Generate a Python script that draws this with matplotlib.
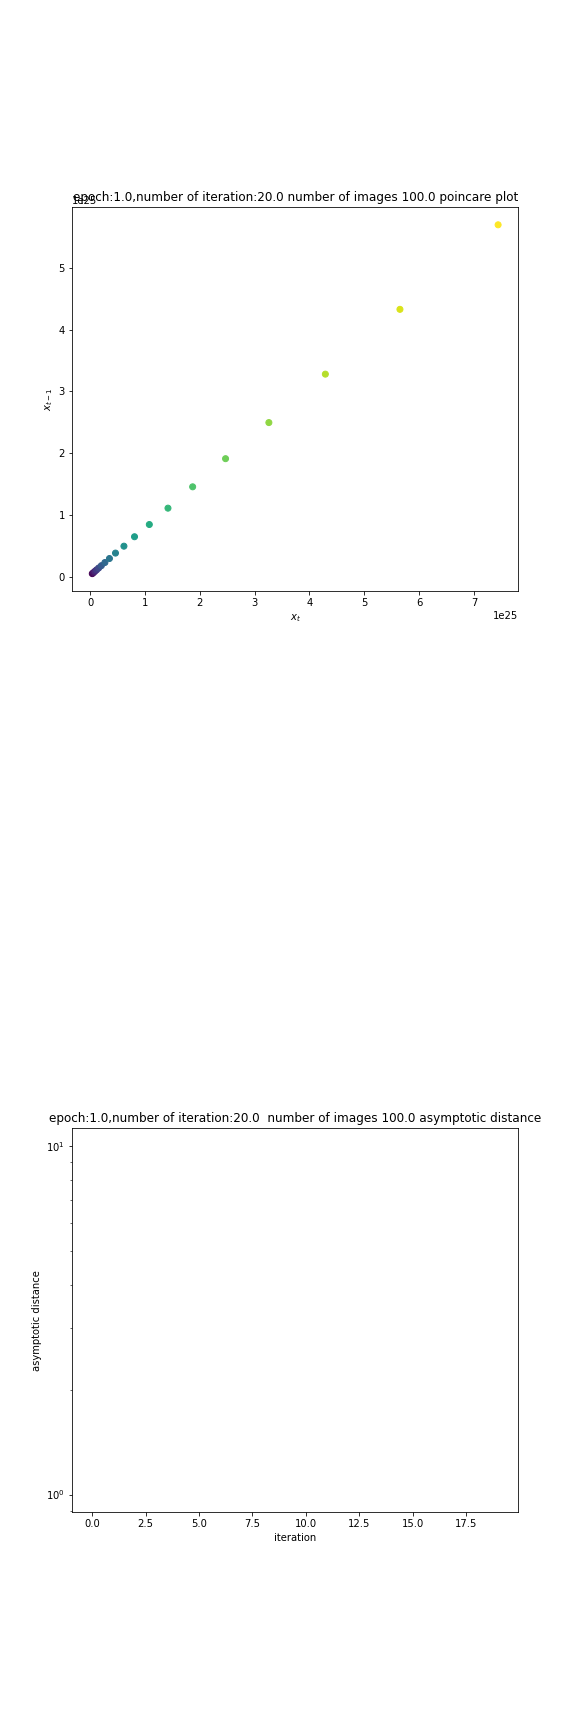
import numpy as np
import matplotlib
matplotlib.use("Agg")
import matplotlib.pyplot as plt

# ------------------- DATA -------------------
epoch = 1.0
n_iter = 20.0
n_images = 100.0

# poincare plot values (units of 1e25)
x_t = [0.04, 0.062, 0.088, 0.118, 0.156, 0.205, 0.27, 0.353, 0.463, 0.617,
       0.81, 1.08, 1.42, 1.87, 2.47, 3.26, 4.29, 5.65, 7.44]
x_prev = [0.047, 0.064, 0.085, 0.108, 0.138, 0.176, 0.227, 0.292, 0.38, 0.492,
          0.645, 0.843, 1.108, 1.454, 1.91, 2.495, 3.28, 4.33, 5.70]

# asymptotic distance per iteration (all zero -> nothing visible on log axis)
iterations = [0, 1, 2, 3, 4, 5, 6, 7, 8, 9, 10, 11, 12, 13, 14, 15, 16, 17, 18, 19]
distances = [0.0, 0.0, 0.0, 0.0, 0.0, 0.0, 0.0, 0.0, 0.0, 0.0,
             0.0, 0.0, 0.0, 0.0, 0.0, 0.0, 0.0, 0.0, 0.0, 0.0]
# --------------------------------------------

fig = plt.figure(figsize=(8, 24), dpi=72)
fig.subplots_adjust(bottom=0.125)

# top: poincare plot
ax1 = fig.add_subplot(3, 1, 1)
xs = np.array(x_t) * 1e25
ys = np.array(x_prev) * 1e25
ax1.scatter(xs, ys, c=np.arange(len(xs)), cmap='viridis')
# fixed y so the title sits on the axes and overlaps the 1e25 offset text, like the old output
ax1.set_title(f"epoch:{epoch},number of iteration:{n_iter} number of images {n_images} poincare plot", y=1.0)
ax1.set_xlabel(r"$x_t$")
ax1.set_ylabel(r"$x_{t-1}$")

# bottom: asymptotic distance
ax2 = fig.add_subplot(3, 1, 3)
ax2.plot(iterations, np.ma.masked_equal(distances, 0.0))
ax2.set_yscale('log')
ax2.set_xlim(-0.95, 19.95)
ax2.set_ylim(10 ** -0.05, 10 ** 1.05)
ax2.set_title(f"epoch:{epoch},number of iteration:{n_iter}  number of images {n_images} asymptotic distance")
ax2.set_xlabel("iteration")
ax2.set_ylabel("asymptotic distance")

fig.savefig("out.png", dpi=72)
